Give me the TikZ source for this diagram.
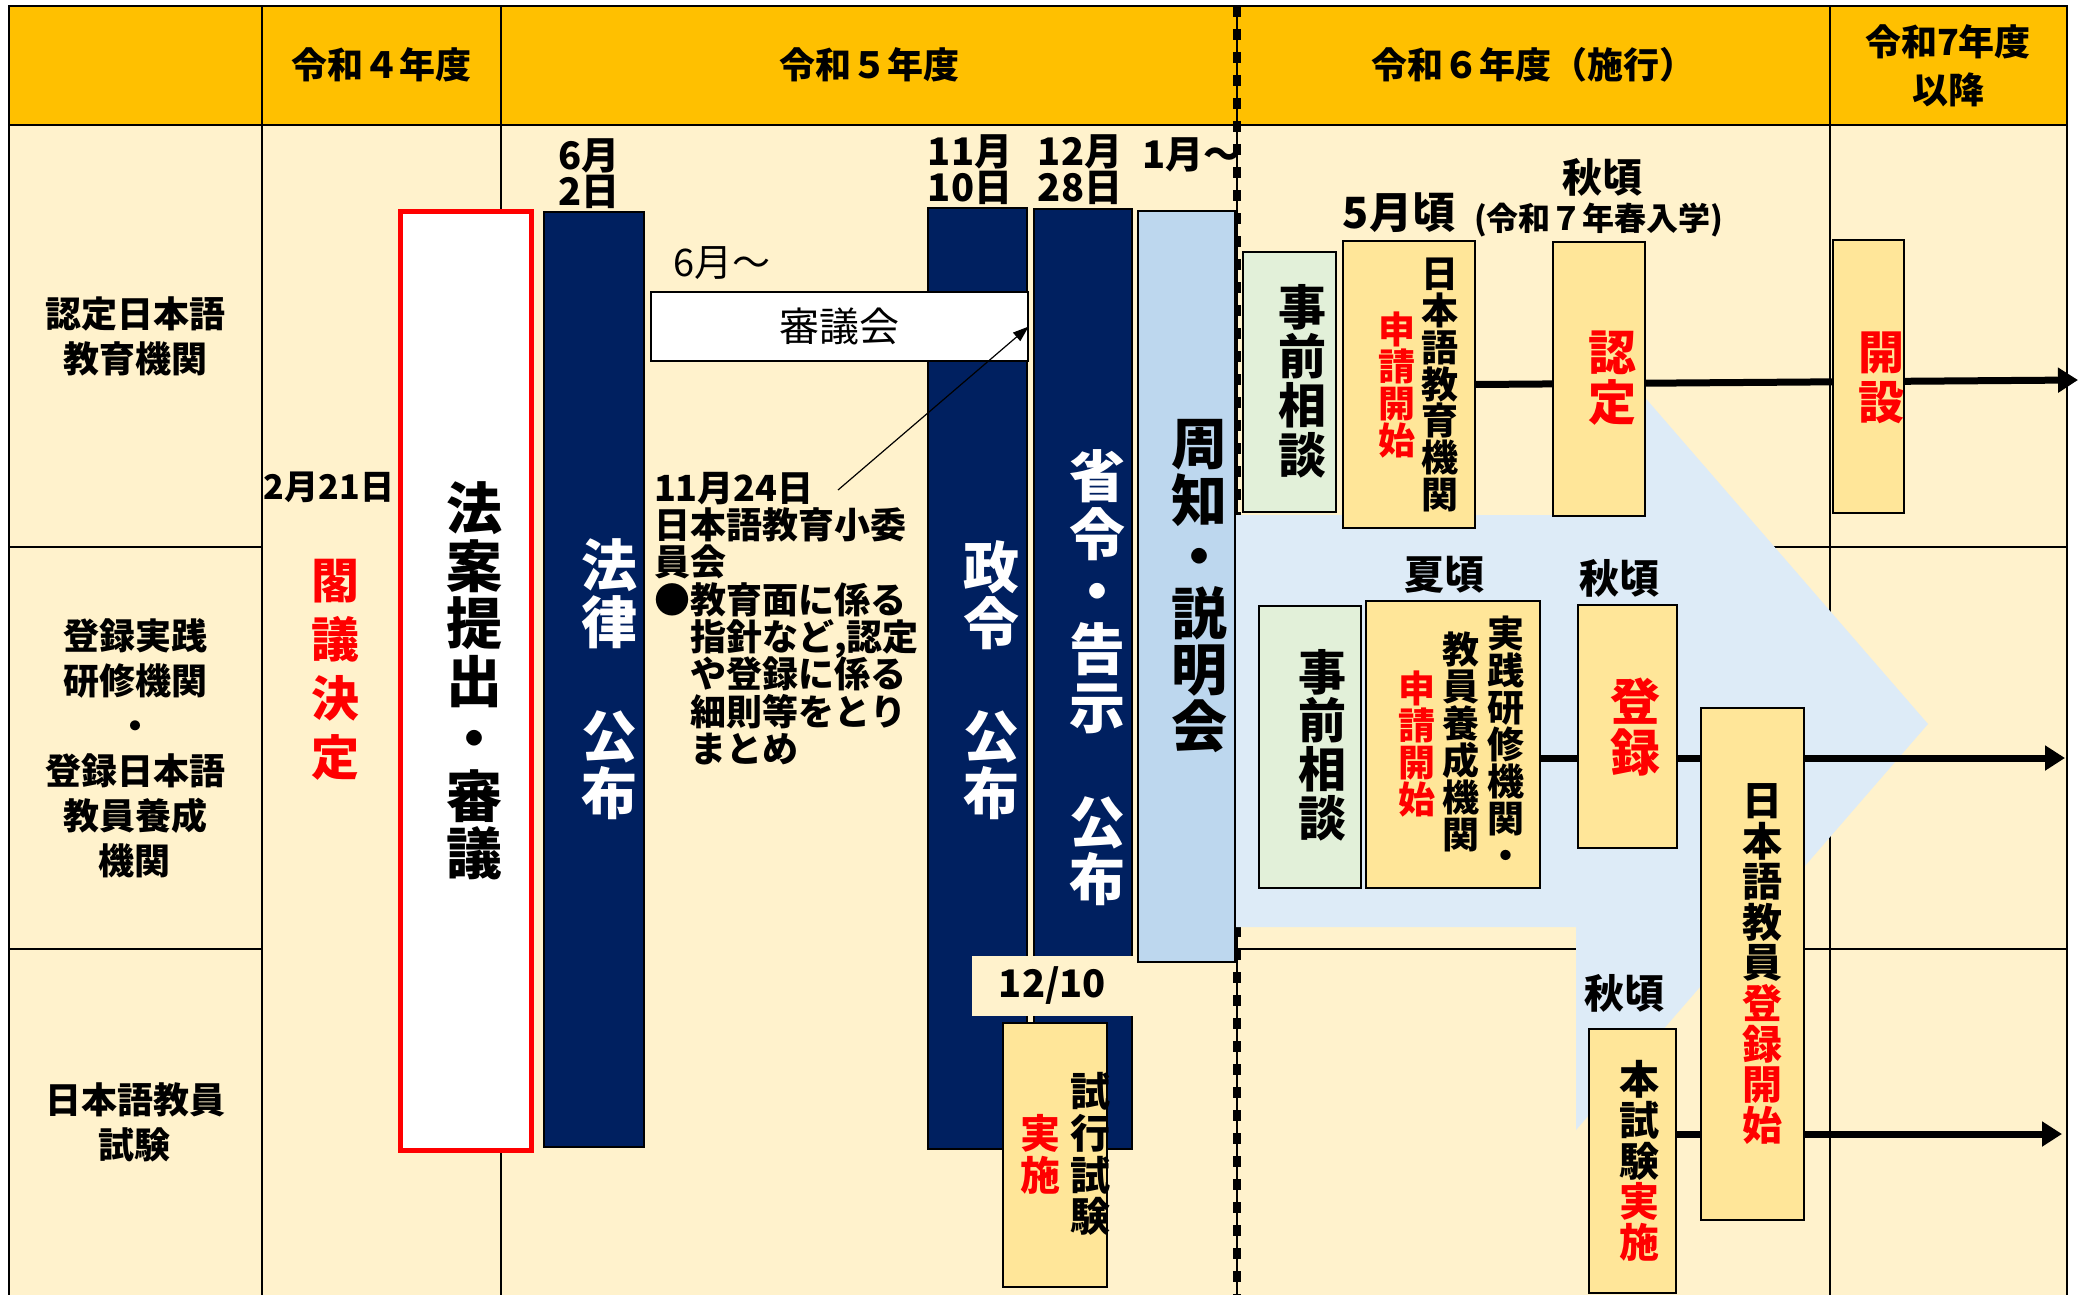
\documentclass[tikz,border=0pt]{standalone}
\usepackage{fontspec}
\setmainfont{Noto Sans CJK JP}
\usetikzlibrary{arrows.meta}
\definecolor{hdr}{HTML}{FFC000}
\definecolor{cream}{HTML}{FFF2CC}
\definecolor{navy}{HTML}{002060}
\definecolor{lblue}{HTML}{BDD7EE}
\definecolor{pblue}{HTML}{DDEBF7}
\definecolor{pgreen}{HTML}{E2F0D9}
\definecolor{pyel}{HTML}{FFE699}
\definecolor{jred}{HTML}{FF0000}
\pgfdeclarelayer{back}
\pgfdeclarelayer{mid}
\pgfsetlayers{back,mid,main}
\newcommand\fz[2]{\fontsize{#1pt}{#2pt}\selectfont\lineskiplimit=-100pt\bfseries}
\newcommand\fr[2]{\fontsize{#1pt}{#2pt}\selectfont\lineskiplimit=-100pt}
\newcommand\R[1]{\textcolor{jred}{#1}}
\begin{document}
\begin{tikzpicture}[x=1pt,y=-1pt,
  grid/.style={line width=2pt, draw=black},
  bx/.style={draw=black, line width=1.8pt, inner sep=0pt, outer sep=0pt, anchor=north west},
  txt/.style={inner sep=0pt, outer sep=0pt, align=center},
  rowarrow/.style={line width=7pt, -{Triangle[length=20pt,width=24pt]}},
  thinarrow/.style={line width=1.2pt, -{Triangle[length=16pt,width=11pt]}},
]
\useasboundingbox (0,0) rectangle (2082,1295);

\begin{pgfonlayer}{back}
\fill[cream] (9,6) rectangle (2067,1295);
\fill[hdr] (9,6) rectangle (2067,125);
\draw[grid] (9,1295) -- (9,6) -- (2067,6) -- (2067,1295);
\draw[grid] (9,125) -- (2067,125);
\draw[grid] (262,6) -- (262,1295);
\draw[grid] (501,6) -- (501,1295);
\draw[grid] (1830,6) -- (1830,1295);
\draw[grid] (9,547) -- (262,547);
\draw[grid] (9,949) -- (262,949);
\draw[grid] (1237,547) -- (2067,547);
\draw[grid] (1237,949) -- (2067,949);
\draw[line width=1.5pt] (1237,6) -- (1237,1295);
\draw[line width=8pt, dash pattern=on 11pt off 12pt] (1237,6) -- (1237,1295);
\fill[pblue] (1235,515) -- (1576,515) -- (1576,318) -- (1928,724) -- (1576,1130) -- (1576,927) -- (1235,927) -- cycle;
\end{pgfonlayer}

% header texts
\node[txt, font=\fz{36}{44}] (h4) at (381,65) {令和４年度};
\node[txt, font=\fz{36}{44}] (h5) at (869,65) {令和５年度};
\node[txt, font=\fz{36}{44}] (h6) at (1533,65) {令和６年度（施行）};
\node[txt, font=\fz{36}{48}] (h7) at (1948,66) {令和7年度\\以降};

% row titles
\node[txt, font=\fz{36}{45}] (c1) at (135,336) {認定日本語\\教育機関};
\node[txt, font=\fz{36}{45}] (c2) at (135,748) {登録実践\\研修機関\\・\\登録日本語\\教員養成\\機関};
\node[txt, font=\fz{36}{45}] (c3) at (135,1122) {日本語教員\\試験};

% Reiwa 4
\node[txt, font=\fz{34}{40}] (d221) at (329,487) {2月21日};
\node[txt, font=\fz{48}{59}, text=jred] (kakugi) at (335,670) {閣\\議\\決\\定};
\node[bx, fill=white, draw=jred, line width=5pt, minimum width=131pt, minimum height=939pt] (redbox) at (400,211) {};
\node[txt, font=\fz{56}{57.5}] (houan) at (474,681) {法\\案\\提\\出\\・\\審\\議};

% Reiwa 5
\node[txt, font=\fz{38}{36}] (d62) at (589,174) {6月\\2日};
\node[bx, fill=navy, minimum width=100pt, minimum height=935pt] (hourei) at (544,212) {};
\node[txt, font=\fz{56}{57}, text=white] (houreit) at (609,679) {法\\律\\　\\公\\布};

\node[txt, font=\fr{38}{40}] (d6) at (722,263) {6月～};

\node[txt, font=\fz{38}{36}] (d1110) at (970,170) {11月\\10日};
\node[txt, font=\fz{38}{36}] (d1228) at (1080,170) {12月\\28日};
\node[txt, font=\fz{38}{36}, anchor=west] (d1) at (1142,155) {1月～};

\node[bx, fill=navy, minimum width=99pt, minimum height=941pt] (seirei) at (928,208) {};
\node[txt, font=\fz{56}{56.5}, text=white] (seireit) at (991,680) {政\\令\\　\\公\\布};
\node[bx, fill=navy, minimum width=98pt, minimum height=940pt] (shourei) at (1034,209) {};
\node[txt, font=\fz{56}{57.6}, text=white] (shoureit) at (1097,678) {省\\令\\・\\告\\示\\　\\公\\布};
\node[bx, fill=lblue, minimum width=97pt, minimum height=751pt] (shuchi) at (1138,211) {};
\node[txt, font=\fz{56}{56.6}] (shuchit) at (1199,586) {周\\知\\・\\説\\明\\会};

\node[draw=black, line width=1.5pt, fill=white, inner sep=0pt, minimum width=377pt, minimum height=69pt, font=\fr{40}{44}] (shingi) at (839.5,326.5) {審議会};

\node[txt, font=\fz{36}{37.3}, align=left, anchor=north west] (memo) at (654,472) {11月24日\\日本語教育小委\\員会\\●教育面に係る\\　指針など,認定\\　や登録に係る\\　細則等をとり\\　まとめ};
\coordinate (memotail) at (838,490);

\node[fill=cream, inner sep=0pt, minimum width=161pt, minimum height=60pt, font=\fz{38}{40}] (lab1210) at (1052.5,986) {12/10};
\node[bx, fill=pyel, minimum width=104pt, minimum height=264pt] (shikou) at (1003,1023) {};
\node[txt, font=\fz{40}{41.7}] (shikout) at (1090,1154) {試\\行\\試\\験};
\node[txt, font=\fz{40}{41.7}, text=jred] (shikour) at (1040,1154) {実\\施};

% Reiwa 6 row 1
\node[txt, font=\fz{43}{44}] (may) at (1399,213) {5月頃};
\node[txt, font=\fz{32}{36}, anchor=west] (spring) at (1474,220) {(令和７年春入学)};
\node[txt, font=\fz{40}{44}] (aki1) at (1602,177) {秋頃};
\node[bx, fill=pgreen, minimum width=93pt, minimum height=260pt] (jizen1) at (1243,252) {};
\node[txt, font=\fz{48}{49.3}] (jizen1t) at (1302,381) {事\\前\\相\\談};
\node[bx, fill=pyel, minimum width=132pt, minimum height=287pt] (kikan1) at (1343,241) {};
\node[txt, font=\fz{37}{36.7}] (kikan1t) at (1440,385) {日\\本\\語\\教\\育\\機\\関};
\node[txt, font=\fz{37}{36.7}, text=jred] (kikan1r) at (1397,385) {申\\請\\開\\始};
\node[bx, fill=pyel, minimum width=92pt, minimum height=274pt] (nintei) at (1553,242) {};
\node[txt, font=\fz{48}{50}, text=jred] (ninteit) at (1612,378) {認\\定};
\node[bx, fill=pyel, minimum width=71pt, minimum height=273pt] (kaisetsu) at (1833,240) {};
\node[txt, font=\fz{46}{50}, text=jred] (kaisetsut) at (1881,378) {開\\設};

% row 2
\node[txt, font=\fz{40}{44}] (natsu) at (1444,575) {夏頃};
\node[txt, font=\fz{40}{44}] (aki2) at (1619,578) {秋頃};
\node[bx, fill=pgreen, minimum width=102pt, minimum height=282pt] (jizen2) at (1259,606) {};
\node[txt, font=\fz{48}{48.7}] (jizen2t) at (1322,745) {事\\前\\相\\談};
\node[bx, fill=pyel, minimum width=174pt, minimum height=287pt] (kikan2) at (1366,601) {};
\node[txt, font=\fz{37}{37}] (kikan2a) at (1506,743) {実\\践\\研\\修\\機\\関\\・};
\node[txt, font=\fz{37}{37}] (kikan2b) at (1461,742) {教\\員\\養\\成\\機\\関};
\node[txt, font=\fz{37}{37}, text=jred] (kikan2r) at (1417,744) {申\\請\\開\\始};
\node[bx, fill=pyel, minimum width=99pt, minimum height=243pt] (touroku) at (1578,605) {};
\node[txt, font=\fz{50}{51}, text=jred] (tourokut) at (1635,727) {登\\録};
\node[bx, fill=pyel, minimum width=103pt, minimum height=512pt] (kyouin) at (1701,708) {};
\node[txt, font=\fz{40}{40.6}] (kyouint) at (1762,964) {日\\本\\語\\教\\員\\\R{登}\\\R{録}\\\R{開}\\\R{始}};

% row 3
\node[txt, font=\fz{40}{44}] (aki3) at (1624,993) {秋頃};
\node[bx, fill=pyel, minimum width=87pt, minimum height=264pt] (honshiken) at (1589,1029) {};
\node[txt, font=\fz{40}{40.75}] (honshikent) at (1639,1161) {本\\試\\験\\\R{実}\\\R{施}};

\coordinate (r1end) at (2078,380);
\coordinate (r2end) at (2065,758);
\coordinate (r3end) at (2062,1134);

\begin{pgfonlayer}{mid}
\draw[rowarrow] (kikan1.east) -- (r1end);
\draw[rowarrow] (kikan2.east |- r2end) -- (r2end);
\draw[rowarrow] (honshiken.east |- r3end) -- (r3end);
\end{pgfonlayer}
\draw[thinarrow] (memotail) -- (shingi.east);
\end{tikzpicture}
\end{document}
